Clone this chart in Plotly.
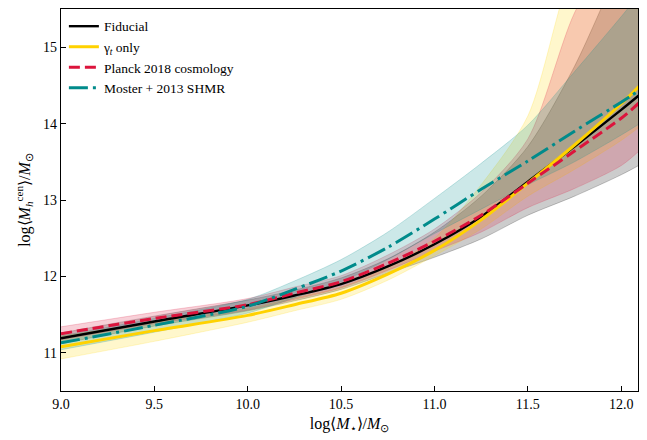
import plotly.graph_objects as go

# ---- data ----
x = [9.0, 9.5, 10.0, 10.25, 10.5, 10.75, 11.0, 11.25, 11.5, 11.75, 12.0, 12.1]

fid_mid = [11.19, 11.41, 11.62, 11.75, 11.90, 12.13, 12.42, 12.78, 13.24, 13.70, 14.18, 14.38]
fid_lo = [11.12, 11.35, 11.55, 11.68, 11.83, 12.04, 12.25, 12.49, 12.80, 13.05, 13.33, 13.46]
fid_hi = [11.26, 11.48, 11.69, 11.82, 11.98, 12.23, 12.58, 13.05, 13.70, 14.75, 16.10, 16.60]

gam_mid = [11.08, 11.29, 11.49, 11.63, 11.78, 12.03, 12.34, 12.74, 13.22, 13.72, 14.26, 14.50]
gam_lo = [10.92, 11.15, 11.40, 11.55, 11.70, 11.95, 12.27, 12.62, 13.05, 13.40, 13.78, 13.96]
gam_hi = [11.22, 11.40, 11.58, 11.72, 11.86, 12.12, 12.50, 13.20, 14.10, 16.10, 17.00, 17.50]

pla_mid = [11.25, 11.45, 11.63, 11.78, 11.93, 12.17, 12.46, 12.80, 13.22, 13.64, 14.07, 14.28]
pla_lo = [11.17, 11.38, 11.56, 11.70, 11.85, 12.08, 12.33, 12.58, 12.90, 13.15, 13.45, 13.65]
pla_hi = [11.34, 11.53, 11.71, 11.86, 12.01, 12.28, 12.62, 13.10, 13.80, 15.45, 16.50, 17.00]

mos_mid = [11.13, 11.36, 11.61, 11.83, 12.07, 12.38, 12.75, 13.14, 13.51, 13.90, 14.28, 14.44]
mos_lo = [11.04, 11.27, 11.52, 11.72, 11.93, 12.22, 12.56, 12.88, 13.20, 13.50, 13.85, 14.00]
mos_hi = [11.22, 11.45, 11.70, 11.94, 12.22, 12.58, 13.02, 13.48, 13.98, 14.68, 15.40, 15.70]

names = ["Fiducial", "γ<sub><i>t</i></sub> only", "Planck 2018 cosmology", "Moster + 2013 SHMR"]
xticks = [9.0, 9.5, 10.0, 10.5, 11.0, 11.5, 12.0]
yticks = [11, 12, 13, 14, 15]

colors = ["rgb(0,0,0)", "rgb(255,210,0)", "rgb(220,20,60)", "rgb(0,139,139)"]
band_rgb = ["0,0,0", "255,215,0", "220,20,60", "0,139,139"]
dashes = ["solid", "solid", "11px,5px", "19px,5px,3px,5px"]
widths = [2.4, 3, 3, 3]

series = [(fid_mid, fid_lo, fid_hi), (gam_mid, gam_lo, gam_hi),
          (pla_mid, pla_lo, pla_hi), (mos_mid, mos_lo, mos_hi)]

fig = go.Figure()

for i, (mid, lo, hi) in enumerate(series):
    fc = f"rgba({band_rgb[i]},0.2)"
    fig.add_trace(go.Scatter(x=x, y=lo, mode="lines", line=dict(color=fc, width=1, shape="spline", smoothing=0.8),
                             showlegend=False, hoverinfo="skip"))
    fig.add_trace(go.Scatter(x=x, y=hi, mode="lines", line=dict(color=fc, width=1, shape="spline", smoothing=0.8),
                             fill="tonexty", fillcolor=fc, showlegend=False, hoverinfo="skip"))

for i, (mid, lo, hi) in enumerate(series):
    fig.add_trace(go.Scatter(x=x, y=mid, mode="lines", name=names[i],
                             line=dict(color=colors[i], width=widths[i], dash=dashes[i],
                                       shape="spline", smoothing=0.8)))

font = "Liberation Serif"
fig.update_layout(
    width=647, height=440,
    margin=dict(l=61, r=9, t=9, b=49),
    plot_bgcolor="white", paper_bgcolor="white",
    font=dict(family=font, size=14, color="black"),
    showlegend=True,
    legend=dict(x=0.005, y=0.995, xanchor="left", yanchor="top", traceorder="normal",
                bgcolor="rgba(255,255,255,0)", borderwidth=0,
                font=dict(size=13.5), itemwidth=30, tracegroupgap=0),
)
fig.update_xaxes(range=[9.0, 12.09], tickvals=xticks, ticktext=[f"{v:.1f}" for v in xticks],
                 ticks="inside", ticklen=5, tickcolor="black", showline=True, linecolor="black",
                 linewidth=1.2, mirror=True, showgrid=False, zeroline=False,
                 title=dict(text="log⟨<i>M</i><sub>⋆</sub>⟩/<i>M</i><sub>⊙</sub>", standoff=6,
                            font=dict(size=16)))
fig.update_yaxes(range=[10.5, 15.5], tickvals=yticks, ticks="inside", ticklen=5, tickcolor="black",
                 showline=True, linecolor="black", linewidth=1.2, mirror=True, showgrid=False,
                 zeroline=False,
                 title=dict(text="log⟨<i>M</i><sub><i>h</i></sub><sup>cen</sup>⟩/<i>M</i><sub>⊙</sub>",
                            standoff=8, font=dict(size=16)))

fig.write_html("out.html")
